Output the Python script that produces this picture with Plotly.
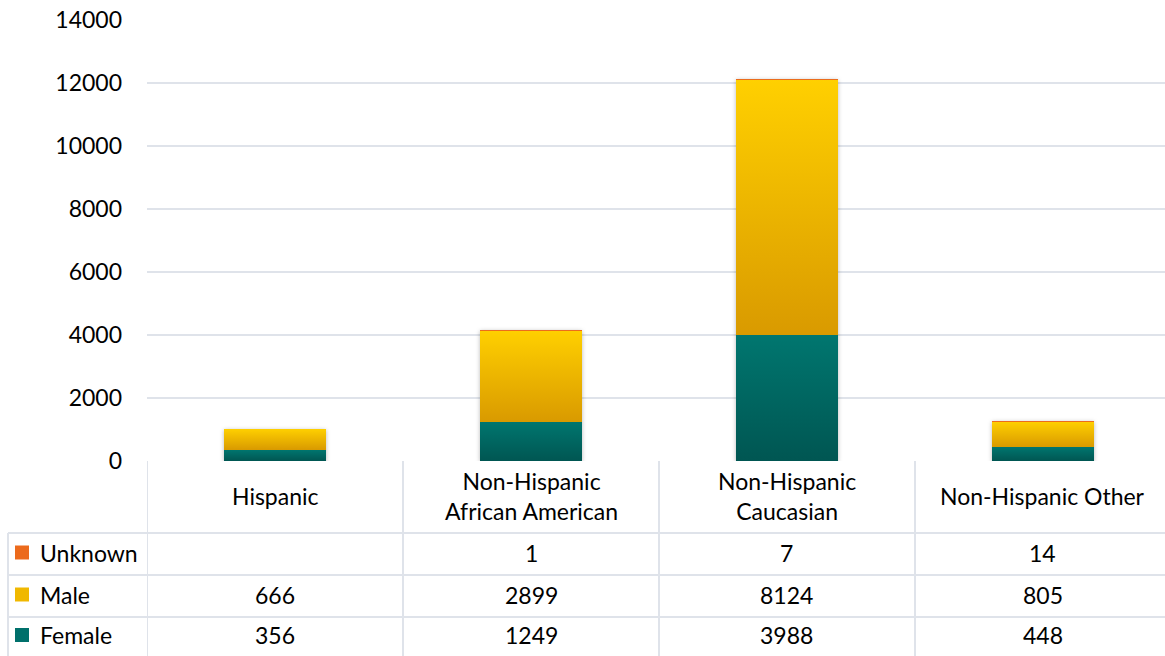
import plotly.graph_objects as go

# ---------------- data ----------------
categories = ["Hispanic", "Non-Hispanic African American", "Non-Hispanic Caucasian", "Non-Hispanic Other"]
category_labels = ["Hispanic", "Non-Hispanic<br>African American", "Non-Hispanic<br>Caucasian", "Non-Hispanic Other"]
female = [356, 1249, 3988, 448]
male = [666, 2899, 8124, 805]
unknown = [None, 1, 7, 14]
y_ticks = [0, 2000, 4000, 6000, 8000, 10000, 12000, 14000]

series = [("Female", female, "#00706b"), ("Male", male, "#f0b800"), ("Unknown", unknown, "#ec6a1c")]
table_rows = [("Unknown", unknown, "#ec6a1c"), ("Male", male, "#f0b800"), ("Female", female, "#00706b")]

# ---------------- layout geometry ----------------
W, H = 1165, 656
ML, MR, MT, MB = 147, 0, 20, 195
PW, PH = W - ML - MR, H - MT - MB
FONT = "Lato"
FS = 23
GRID = "#dfe3ea"


def px_x(x):
    return (x - ML) / PW


def px_y(y):
    return (H - MB - y) / PH


fig = go.Figure()
for name, vals, col in series:
    fig.add_trace(go.Bar(x=categories, y=vals, name=name, marker=dict(color=col, line=dict(width=0))))

shapes = []
annotations = []

# table horizontal lines
row_edges = [533, 575, 617, 656]
for y in row_edges[:-1]:
    shapes.append(dict(type="line", xref="paper", yref="paper", x0=px_x(8), x1=1, y0=px_y(y), y1=px_y(y),
                       line=dict(color=GRID, width=2)))
# left-most vertical line (legend column)
shapes.append(dict(type="line", xref="paper", yref="paper", x0=px_x(8), x1=px_x(8), y0=px_y(533), y1=px_y(H + 5),
                   line=dict(color=GRID, width=2)))
# category boundary vertical lines
for i in range(len(categories)):
    shapes.append(dict(type="line", xref="x", yref="paper", x0=i - 0.5, x1=i - 0.5, y0=0, y1=px_y(H + 5),
                       line=dict(color=GRID, width=2)))

# header labels
for i, lab in enumerate(category_labels):
    annotations.append(dict(x=i, y=px_y(496), xref="x", yref="paper", text=lab, showarrow=False,
                            xanchor="center", yanchor="middle", font=dict(family=FONT, size=FS, color="#000000")))

# value rows
for r, (name, vals, col) in enumerate(table_rows):
    yc = (row_edges[r] + row_edges[r + 1]) / 2 - 1.5
    shapes.append(dict(type="rect", xref="paper", yref="paper", x0=px_x(15), x1=px_x(29),
                       y0=px_y(yc - 7), y1=px_y(yc + 7), fillcolor=col, line=dict(width=0)))
    annotations.append(dict(x=px_x(38), y=px_y(yc), xref="paper", yref="paper", text=name, showarrow=False,
                            xanchor="left", yanchor="middle", font=dict(family=FONT, size=FS, color="#000000")))
    for i, v in enumerate(vals):
        if v is None:
            continue
        annotations.append(dict(x=i, y=px_y(yc), xref="x", yref="paper", text=str(v), showarrow=False,
                                xanchor="center", yanchor="middle", font=dict(family=FONT, size=FS, color="#000000")))

fig.update_layout(
    width=W, height=H,
    margin=dict(l=ML, r=MR, t=MT, b=MB, autoexpand=False),
    barmode="stack", bargap=0.6,
    paper_bgcolor="white", plot_bgcolor="white",
    showlegend=False,
    font=dict(family=FONT, size=FS, color="#000000"),
    xaxis=dict(range=[-0.5, 3.4766], showticklabels=False, showgrid=False, zeroline=False, showline=False,
               ticks=""),
    yaxis=dict(range=[0, 14000], tickvals=y_ticks, ticktext=[str(t) for t in y_ticks],
               showgrid=True, gridcolor=GRID, gridwidth=2,
               zeroline=False, showline=False, ticks="", ticklabelstandoff=24,
               tickfont=dict(family=FONT, size=FS, color="#000000")),
    shapes=shapes, annotations=annotations,
)

post = """
document.body.style.margin = '0';
document.body.style.padding = '0';
document.body.style.overflow = 'hidden';
var gd = document.getElementById('{plot_id}');
function applyGrad(){
  var svg = gd.querySelector('svg.main-svg');
  if(!svg) return;
  var ns = 'http://www.w3.org/2000/svg';
  var defs = svg.querySelector('defs');
  if(!defs){ defs = document.createElementNS(ns,'defs'); svg.insertBefore(defs, svg.firstChild); }
  var stops = [['#00766f','#005652'],['#ffd000','#d99a00'],['#f47a20','#e2601a']];
  stops.forEach(function(s,i){
    if(document.getElementById('bargrad'+i)) return;
    var g = document.createElementNS(ns,'linearGradient');
    g.setAttribute('id','bargrad'+i); g.setAttribute('x1','0'); g.setAttribute('y1','0');
    g.setAttribute('x2','0'); g.setAttribute('y2','1');
    [[0,s[0]],[1,s[1]]].forEach(function(st){
      var e = document.createElementNS(ns,'stop');
      e.setAttribute('offset', st[0]); e.setAttribute('stop-color', st[1]);
      g.appendChild(e);
    });
    defs.appendChild(g);
  });
  var traces = gd.querySelectorAll('.barlayer .trace');
  traces.forEach(function(t,i){
    t.querySelectorAll('path').forEach(function(p){ p.style.fill = 'url(#bargrad'+i+')'; });
  });
  var bl = gd.querySelector('.barlayer');
  if(bl) bl.style.filter = 'drop-shadow(0px 1px 2px rgba(0,0,0,0.28))';
}
applyGrad();
gd.on('plotly_afterplot', applyGrad);
"""

fig.write_html("out.html", post_script=post, config={"displayModeBar": False})
